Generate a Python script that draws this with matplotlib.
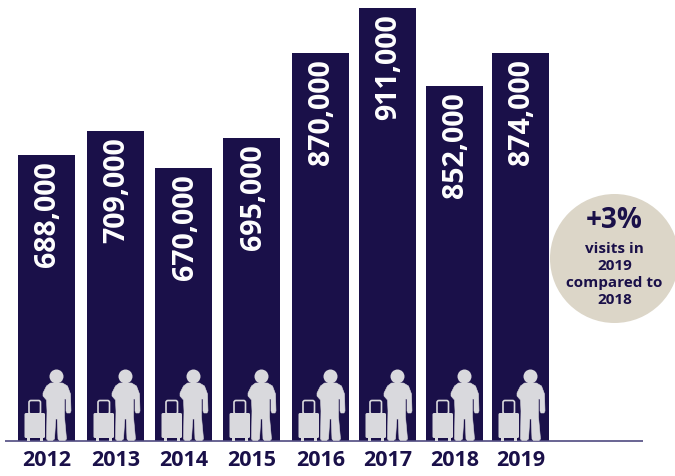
import matplotlib
matplotlib.use("Agg")
import matplotlib.pyplot as plt
from matplotlib.patches import Circle, Polygon, FancyBboxPatch, Rectangle

years = ["2012", "2013", "2014", "2015", "2016", "2017", "2018", "2019"]
visit_labels = ["688,000", "709,000", "670,000", "695,000", "870,000", "911,000", "852,000", "874,000"]
# Drawn bar heights as they appear in the picture (the source graphic is not to scale)
bar_heights = [286, 310, 273, 303, 388, 433, 355, 388]
callout_lines = ["visits in", "2019", "compared to", "2018"]
callout_head = "+3%"

NAVY = "#1a1049"
ICON = "#d9d9dd"
SAND = "#dcd6c8"
LINE = "#4f4a80"
FONT = "Open Sans"

bar_centres = [46.5, 115.5, 183.5, 251.5, 320.5, 387.5, 454.5, 520.5]
BAR_W = 57

fig = plt.figure(figsize=(6.75, 4.76), dpi=100)
ax = fig.add_axes([0, 0, 1, 1])
ax.set_xlim(0, 675)
ax.set_ylim(-35, 441)
ax.axis("off")

ax.bar(bar_centres, bar_heights, width=BAR_W, color=NAVY, zorder=2)
ax.plot([5, 643], [0, 0], color=LINE, lw=1.2, zorder=3, solid_capstyle="butt")

person = [(-6, 58), (6, 58), (11, 55), (14, 47), (14.5, 30), (13.5, 28), (10.5, 28), (9.5, 30), (9.5, 42),
          (8, 42), (8, 24), (10, 2), (8.5, 0.5), (3, 0.5), (1.5, 2), (0.7, 22), (-0.7, 22),
          (-2, 2), (-4, 0.5), (-8.5, 0.5), (-10, 2), (-9.5, 30), (-10, 41), (-13.5, 45), (-13.5, 48), (-10, 55)]


def icon(c):
    px = c + 10
    ax.add_patch(Circle((px, 64.5), 7, fc=ICON, ec="none", zorder=4))
    ax.add_patch(Polygon([(px + x, y) for x, y in person], closed=True, fc=ICON, ec=ICON,
                         lw=0.4, joinstyle="round", zorder=4))
    ax.add_patch(FancyBboxPatch((c - 22, 3), 20.5, 25, boxstyle="round,pad=0,rounding_size=1.5",
                                fc=ICON, ec="none", zorder=4))
    ax.add_patch(Rectangle((c - 20, 0.5), 3, 3, fc=ICON, ec="none", zorder=4))
    ax.add_patch(Rectangle((c - 6.5, 0.5), 3, 3, fc=ICON, ec="none", zorder=4))
    ax.add_patch(FancyBboxPatch((c - 17.5, 27), 11.5, 13.5, boxstyle="round,pad=0,rounding_size=2",
                                fc="none", ec=ICON, lw=1.2, zorder=4))


for c, h, lab, yr in zip(bar_centres, bar_heights, visit_labels, years):
    icon(c)
    ax.text(c + 1.5, h - 6, lab, rotation=90, ha="center", va="top", color="white",
            fontsize=20.5, fontweight="bold", family=FONT, zorder=5)
    ax.text(c + 0.5, -19, yr, ha="center", va="center", color=NAVY,
            fontsize=15.5, fontweight="bold", family=FONT, zorder=5)

ax.add_patch(Circle((614.5, 182.5), 64.5, fc=SAND, ec="none", zorder=3))
ax.text(614.5, 220, callout_head, ha="center", va="center", color=NAVY, fontsize=20,
        fontweight="bold", family=FONT, zorder=5)
for y, line in zip([192, 175, 158.5, 141], callout_lines):
    ax.text(614.5, y, line, ha="center", va="center", color=NAVY, fontsize=11,
            fontweight="bold", family=FONT, zorder=5)

fig.savefig("out.png", dpi=100)
